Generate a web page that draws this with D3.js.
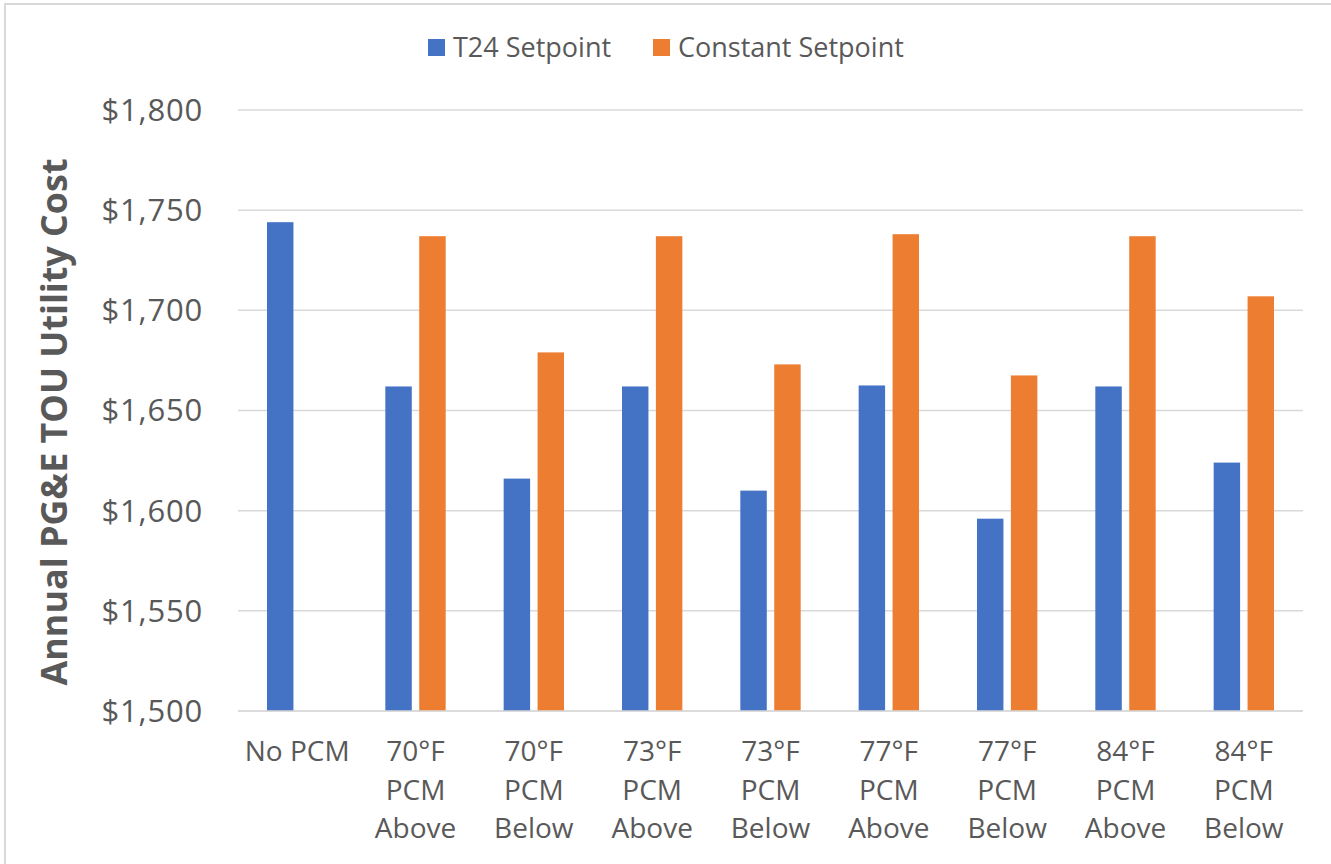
<!DOCTYPE html>
<html>
<head>
<meta charset="utf-8">
<script src="https://cdn.jsdelivr.net/npm/d3@7"></script>
<style>
  html, body { margin: 0; padding: 0; background: #fff; }
  svg { display: block; font-family: "Open Sans", sans-serif; }
</style>
</head>
<body>
<svg id="chart" width="1331" height="864"></svg>
<script>
// Annual PG&E TOU utility cost by PCM configuration
const categories = [
  ["No PCM"],
  ["70°F", "PCM", "Above"],
  ["70°F", "PCM", "Below"],
  ["73°F", "PCM", "Above"],
  ["73°F", "PCM", "Below"],
  ["77°F", "PCM", "Above"],
  ["77°F", "PCM", "Below"],
  ["84°F", "PCM", "Above"],
  ["84°F", "PCM", "Below"]
];
const seriesNames = ["T24 Setpoint", "Constant Setpoint"];
const t24Values = [1744, 1662, 1616, 1662, 1610, 1662.5, 1596, 1662, 1624];
const constantValues = [null, 1737, 1679, 1737, 1673, 1738, 1667.5, 1737, 1707];
const yTicks = [1500, 1550, 1600, 1650, 1700, 1750, 1800];
const yTitle = "Annual PG&E TOU Utility Cost";

const colors = ["#4472C4", "#ED7D31"];
const textColor = "#595959";
const gridColor = "#d9d9d9";

const svg = d3.select("#chart");

// chart area border
svg.append("rect")
  .attr("x", 5).attr("y", 4)
  .attr("width", 1400).attr("height", 900)
  .attr("fill", "#fff")
  .attr("stroke", gridColor).attr("stroke-width", 2);

const plot = { left: 238, right: 1303, top: 110, bottom: 711 };

const keys = categories.map((c, i) => i);
const x0 = d3.scaleBand()
  .domain(keys)
  .range([plot.left, plot.right])
  .paddingInner(0.49)
  .paddingOuter(0.245);

const x1 = d3.scaleBand()
  .domain([0, 1])
  .range([0, x0.bandwidth()])
  .paddingInner(0.22)
  .paddingOuter(0);

const y = d3.scaleLinear()
  .domain([1500, 1800])
  .range([plot.bottom, plot.top]);

// gridlines
svg.append("g")
  .selectAll("line")
  .data(yTicks)
  .join("line")
  .attr("x1", plot.left).attr("x2", plot.right)
  .attr("y1", d => y(d)).attr("y2", d => y(d))
  .attr("stroke", gridColor).attr("stroke-width", 1.5);

// y tick labels
const fmt = d3.format("$,");
svg.append("g")
  .selectAll("text")
  .data(yTicks)
  .join("text")
  .attr("x", 203)
  .attr("y", d => y(d))
  .attr("dy", "0.35em")
  .attr("text-anchor", "end")
  .attr("font-size", 31)
  .attr("letter-spacing", 0.8)
  .attr("fill", textColor)
  .text(d => fmt(d));

// bars
const rows = keys.map(i => ({ i, vals: [t24Values[i], constantValues[i]] }));
const groups = svg.append("g")
  .selectAll("g")
  .data(rows)
  .join("g")
  .attr("transform", d => `translate(${x0(d.i)},0)`);

groups.selectAll("rect")
  .data(d => d.vals.map((v, s) => ({ v, s })).filter(e => e.v != null))
  .join("rect")
  .attr("x", d => x1(d.s))
  .attr("width", x1.bandwidth())
  .attr("y", d => y(d.v))
  .attr("height", d => y(1500) - y(d.v))
  .attr("fill", d => colors[d.s]);

// baseline
svg.append("line")
  .attr("x1", plot.left).attr("x2", plot.right)
  .attr("y1", plot.bottom).attr("y2", plot.bottom)
  .attr("stroke", gridColor).attr("stroke-width", 1.5);

// category labels
const xl = svg.append("g")
  .selectAll("text")
  .data(rows)
  .join("text")
  .attr("text-anchor", "middle")
  .attr("font-size", 28)
  .attr("fill", textColor);
xl.selectAll("tspan")
  .data(d => categories[d.i].map(t => ({ t, cx: x0(d.i) + x0.bandwidth() / 2 })))
  .join("tspan")
  .attr("x", d => d.cx)
  .attr("y", (d, k) => 761 + k * 38.5)
  .text(d => d.t);

// y axis title
const title = svg.append("text")
  .attr("transform", "translate(67,422) rotate(-90)")
  .attr("text-anchor", "middle")
  .attr("font-size", 31)
  .attr("font-weight", "bold")
  .attr("fill", textColor)
  .text(yTitle);
const tl = title.node().getComputedTextLength();
title.attr("font-size", 31 * 527 / tl);

// legend
const legendX = [428, 653];
const legend = svg.append("g")
  .selectAll("g")
  .data(seriesNames)
  .join("g")
  .attr("transform", (d, i) => `translate(${legendX[i]},39)`);
legend.append("rect")
  .attr("width", 17).attr("height", 17)
  .attr("fill", (d, i) => colors[i]);
legend.append("text")
  .attr("x", 25).attr("y", 8.5)
  .attr("dy", "0.35em")
  .attr("font-size", 27)
  .attr("fill", textColor)
  .text(d => d);
</script>
</body>
</html>
